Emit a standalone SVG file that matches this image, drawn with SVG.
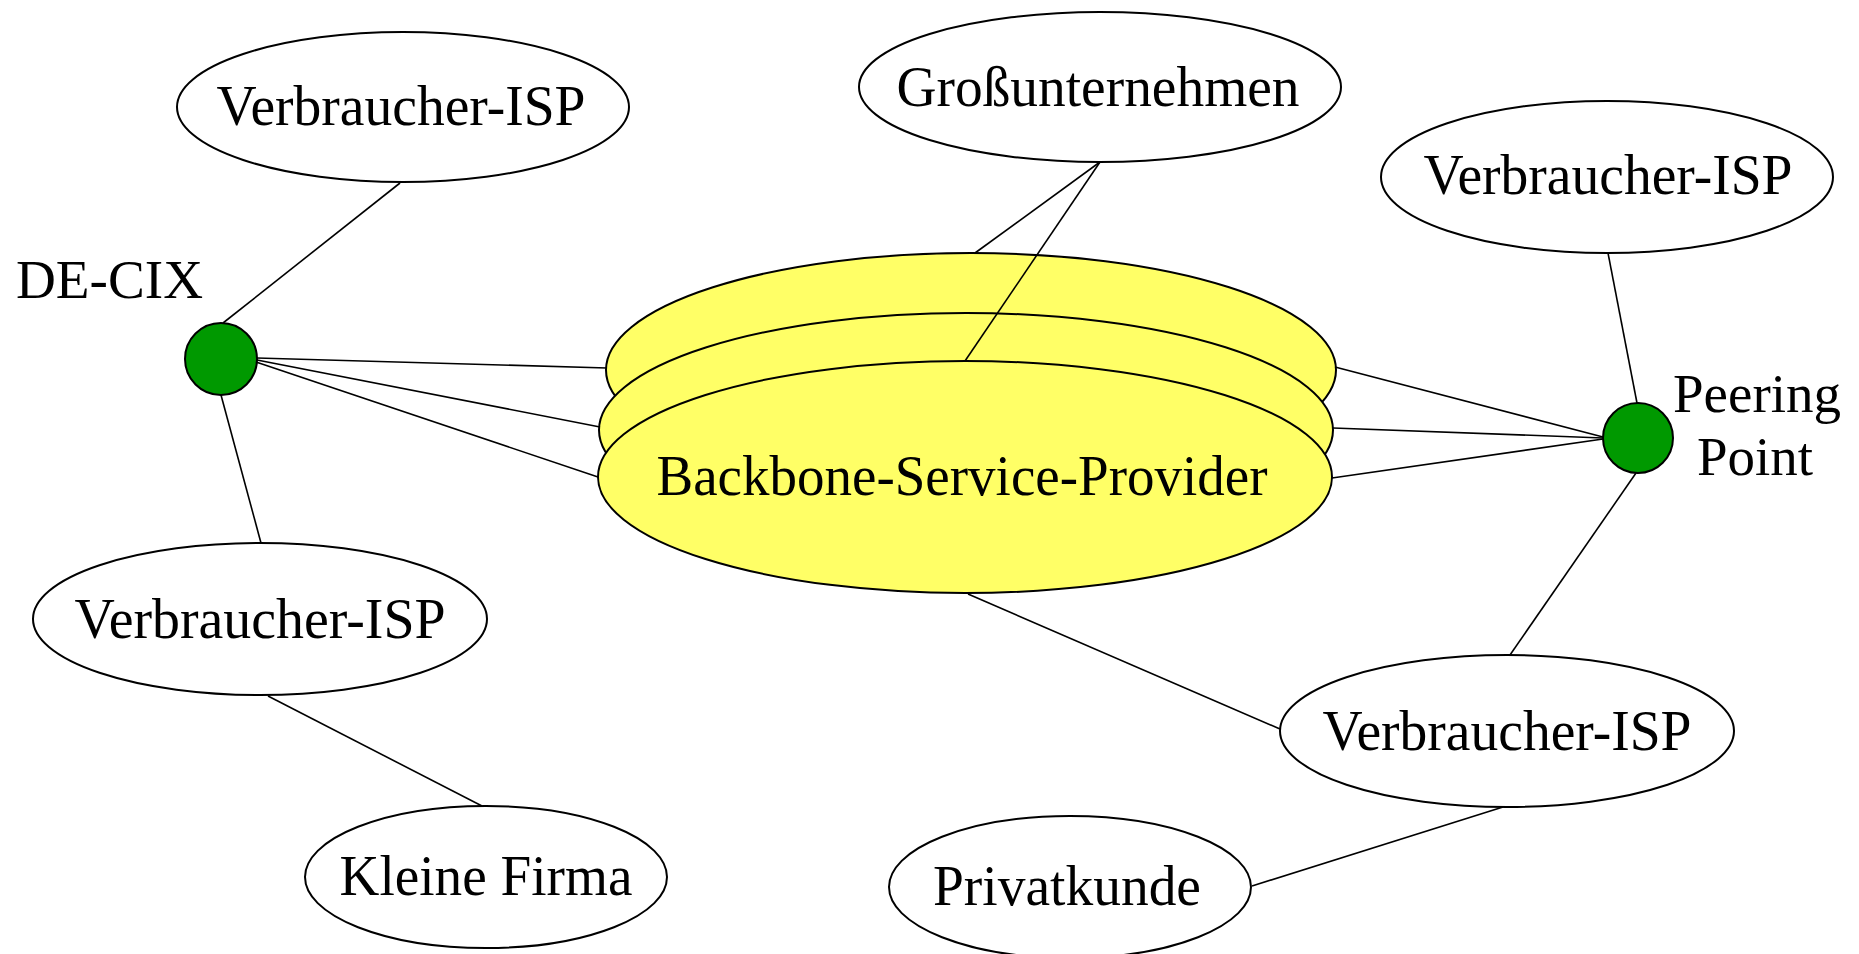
<svg xmlns="http://www.w3.org/2000/svg" width="1859" height="954" viewBox="0 0 1859 954">
<style>
.n{fill:#fff;stroke:#000;stroke-width:2}
.y{fill:#ffff66;stroke:#000;stroke-width:2}
.g{fill:#009900;stroke:#000;stroke-width:2}
.t{font-family:"Liberation Serif","Times New Roman",serif;font-size:57px;fill:#000;text-anchor:middle}
.s{font-size:54px}
.c line{stroke:#000;stroke-width:1.6}
</style>
<rect width="1859" height="954" fill="#fff"/>
<g id="backbone">
<ellipse class="y" cx="971" cy="370" rx="365" ry="117"/>
<ellipse class="y" cx="966" cy="430" rx="367" ry="117"/>
<ellipse class="y" cx="965" cy="477" rx="367" ry="116"/>
<text class="t" x="962" y="495" textLength="611" lengthAdjust="spacingAndGlyphs">Backbone-Service-Provider</text>
</g>
<g id="isp-tl">
<ellipse class="n" cx="403" cy="107" rx="226" ry="75"/>
<text class="t" x="401" y="125" textLength="369" lengthAdjust="spacingAndGlyphs">Verbraucher-ISP</text>
</g>
<g id="decix">
<circle class="g" cx="221" cy="359" r="36"/>
<text class="t s" x="16" y="298" style="text-anchor:start" textLength="187" lengthAdjust="spacingAndGlyphs">DE-CIX</text>
</g>
<g id="isp-l">
<ellipse class="n" cx="260" cy="619" rx="227" ry="76"/>
<text class="t" x="260" y="638" textLength="371" lengthAdjust="spacingAndGlyphs">Verbraucher-ISP</text>
</g>
<g id="kleine-firma">
<ellipse class="n" cx="486" cy="877" rx="181" ry="71"/>
<text class="t" x="486" y="895" textLength="293" lengthAdjust="spacingAndGlyphs">Kleine Firma</text>
</g>
<g id="gross">
<ellipse class="n" cx="1100" cy="87" rx="241" ry="75"/>
<text class="t" x="1098" y="106" textLength="403" lengthAdjust="spacingAndGlyphs">Großunternehmen</text>
</g>
<g id="isp-tr">
<ellipse class="n" cx="1607" cy="177" rx="226" ry="76"/>
<text class="t" x="1608" y="194" textLength="369" lengthAdjust="spacingAndGlyphs">Verbraucher-ISP</text>
</g>
<g id="peering">
<circle class="g" cx="1638" cy="438" r="35"/>
<text class="t s" x="1757" y="412" textLength="168" lengthAdjust="spacingAndGlyphs">Peering</text>
<text class="t s" x="1755" y="475" textLength="116" lengthAdjust="spacingAndGlyphs">Point</text>
</g>
<g id="isp-br">
<ellipse class="n" cx="1507" cy="731" rx="227" ry="76"/>
<text class="t" x="1507" y="750" textLength="369" lengthAdjust="spacingAndGlyphs">Verbraucher-ISP</text>
</g>
<g id="privatkunde">
<ellipse class="n" cx="1070" cy="887" rx="181" ry="71"/>
<text class="t" x="1067" y="905" textLength="268" lengthAdjust="spacingAndGlyphs">Privatkunde</text>
</g>
<g class="c" id="connectors">
<line x1="400" y1="183" x2="223" y2="323"/>
<line x1="257" y1="358" x2="607" y2="368"/>
<line x1="257" y1="360" x2="600" y2="427"/>
<line x1="256" y1="362" x2="598" y2="477"/>
<line x1="221" y1="395" x2="261" y2="543"/>
<line x1="268" y1="696" x2="482" y2="806"/>
<line x1="1100" y1="162" x2="975" y2="253"/>
<line x1="1100" y1="162" x2="965" y2="361"/>
<line x1="1608" y1="253" x2="1637" y2="403"/>
<line x1="1335" y1="367" x2="1603" y2="437"/>
<line x1="1333" y1="428" x2="1603" y2="438"/>
<line x1="1332" y1="478" x2="1603" y2="439"/>
<line x1="1636" y1="473" x2="1510" y2="655"/>
<line x1="968" y1="594" x2="1280" y2="729"/>
<line x1="1503" y1="807" x2="1252" y2="886"/>
</g>
</svg>
